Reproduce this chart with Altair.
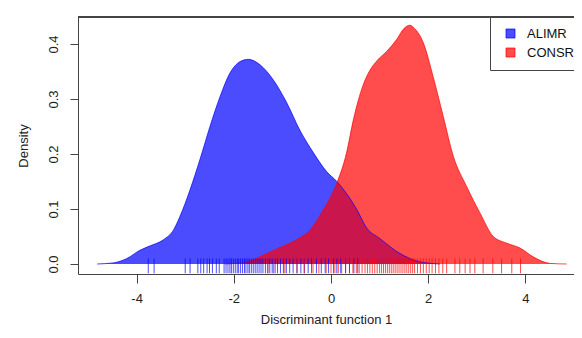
import altair as alt
import pandas as pd

groups = ["ALIMR", "CONSR"]
colors = ["rgba(0,0,255,0.7)", "rgba(255,0,0,0.7)"]

alimr_x = [-4.81, -4.48, -4.20, -3.93, -3.72, -3.45, -3.24, -3.11, -2.90, -2.70, -2.49, -2.28,
           -2.08, -1.87, -1.70, -1.46, -1.19, -0.91, -0.64, -0.36, -0.09, 0.12, 0.32, 0.53,
           0.73, 1.01, 1.42, 1.83, 2.24]
alimr_y = [0.0, 0.002, 0.010, 0.025, 0.033, 0.044, 0.062, 0.086, 0.135, 0.189, 0.250, 0.305,
           0.347, 0.368, 0.372, 0.362, 0.335, 0.293, 0.243, 0.202, 0.168, 0.150, 0.128, 0.099,
           0.066, 0.046, 0.019, 0.004, 0.0]

consr_x = [-2.18, -1.73, -1.32, -1.05, -0.71, -0.43, -0.16, 0.12, 0.32, 0.46, 0.66, 0.80,
           0.95, 1.14, 1.35, 1.50, 1.62, 1.72, 1.90, 2.10, 2.31, 2.52, 2.79, 3.07, 3.34,
           3.61, 3.89, 4.16, 4.51, 4.85]
consr_y = [0.0, 0.004, 0.019, 0.030, 0.044, 0.062, 0.098, 0.147, 0.202, 0.262, 0.325, 0.352,
           0.370, 0.386, 0.408, 0.428, 0.434, 0.428, 0.402, 0.341, 0.268, 0.195, 0.141, 0.092,
           0.050, 0.038, 0.029, 0.013, 0.001, 0.0]

alimr_rug = [-3.76, -3.64, -3.00, -2.90, -2.74, -2.68, -2.62, -2.55, -2.50, -2.44, -2.36, -2.30,
             -2.20, -2.16, -2.12, -2.08, -2.05, -2.01, -1.97, -1.93, -1.90, -1.86, -1.82, -1.78,
             -1.75, -1.71, -1.68, -1.64, -1.60, -1.56, -1.52, -1.48, -1.44, -1.40, -1.35, -1.30,
             -1.26, -1.21, -1.15, -1.10, -1.04, -0.98, -0.92, -0.85, -0.78, -0.70, -0.62, -0.55,
             -0.47, -0.40, -0.30, -0.20, -0.12, -0.05, 0.05, 0.12, 0.20, 0.30, 0.38, 0.47, 0.55]
consr_rug = [-1.30, -1.18, -0.95, -0.70, -0.55, -0.37, -0.25, -0.10, 0.0, 0.08, 0.15, 0.22,
             0.30, 0.38, 0.45, 0.52, 0.58, 0.64, 0.70, 0.75, 0.80, 0.85, 0.90, 0.95, 1.00,
             1.04, 1.08, 1.12, 1.16, 1.20, 1.24, 1.28, 1.32, 1.36, 1.40, 1.44, 1.48, 1.52,
             1.56, 1.60, 1.64, 1.68, 1.72, 1.78, 1.84, 1.90, 1.96, 2.02, 2.08, 2.15, 2.22,
             2.30, 2.38, 2.55, 2.65, 2.76, 2.86, 2.96, 3.13, 3.33, 3.51, 3.72, 3.90]

x_ticks = [-4, -2, 0, 2, 4]
y_ticks = [0.0, 0.1, 0.2, 0.3, 0.4]

dens = pd.concat([
    pd.DataFrame({"x": alimr_x, "density": alimr_y, "group": groups[0]}),
    pd.DataFrame({"x": consr_x, "density": consr_y, "group": groups[1]}),
])
rug = pd.concat([
    pd.DataFrame({"value": alimr_rug, "group": groups[0]}),
    pd.DataFrame({"value": consr_rug, "group": groups[1]}),
])

W, H = 496, 257
FONT = "Liberation Sans"
xs = alt.Scale(domain=[-5.206, 5.0], nice=False, zero=False)
ys = alt.Scale(domain=[-0.0182, 0.449], nice=False, zero=False)
cs = alt.Scale(domain=groups, range=colors)

xaxis = alt.Axis(values=x_ticks, labelExpr="'' + datum.value", grid=False,
                 domainColor="#444", tickColor="#444", tickSize=9, labelPadding=9,
                 titlePadding=8)
yaxis = alt.Axis(values=y_ticks, labelExpr="format(datum.value, '.1f')", grid=False,
                 domainColor="#444", tickColor="#444", tickSize=8, labelAngle=270,
                 labelAlign="center", labelBaseline="bottom", labelPadding=10,
                 titlePadding=17)

area = alt.Chart(dens).mark_area(interpolate="monotone").encode(
    x=alt.X("x:Q", scale=xs, axis=xaxis, title="Discriminant function 1"),
    y=alt.Y("density:Q", scale=ys, axis=yaxis, title="Density", stack=None),
    fill=alt.Fill("group:N", scale=cs, legend=alt.Legend(
        title=None, orient="none", legendX=412, legendY=0, strokeColor="#444",
        fillColor="white", padding=10, symbolType="square", symbolSize=81,
        symbolStrokeColor="#222", symbolStrokeWidth=1, symbolOffset=4,
        labelOffset=10, rowPadding=5, labelFontSize=13, labelFont=FONT,
        labelColor="#111")),
)

outline = alt.Chart(dens).mark_line(interpolate="monotone", strokeWidth=1).encode(
    x=alt.X("x:Q", scale=xs),
    y=alt.Y("density:Q", scale=ys),
    stroke=alt.Stroke("group:N", scale=cs, legend=None),
)

rugs = alt.Chart(rug).mark_rule(strokeWidth=1).encode(
    x=alt.X("value:Q", scale=xs),
    y=alt.datum(-0.0169),
    y2=alt.datum(0.010),
    stroke=alt.Stroke("group:N", scale=cs, legend=None),
)

top = alt.Chart(rug).mark_rule(color="#444", strokeWidth=1).encode(
    x=alt.value(0), x2=alt.value(W), y=alt.value(0)
)

chart = alt.layer(area, outline, rugs, top).properties(
    width=W, height=H,
    autosize=alt.AutoSizeParams(type="none"),
    padding={"left": 70, "top": 9, "right": 0, "bottom": 56},
).configure_view(stroke=None).configure_axis(
    labelFont=FONT, titleFont=FONT, labelFontSize=13, titleFontSize=13,
    labelColor="#222", titleColor="#222", titleFontWeight="normal",
)

chart.save("out.html", embed_options={"renderer": "svg", "actions": False})
